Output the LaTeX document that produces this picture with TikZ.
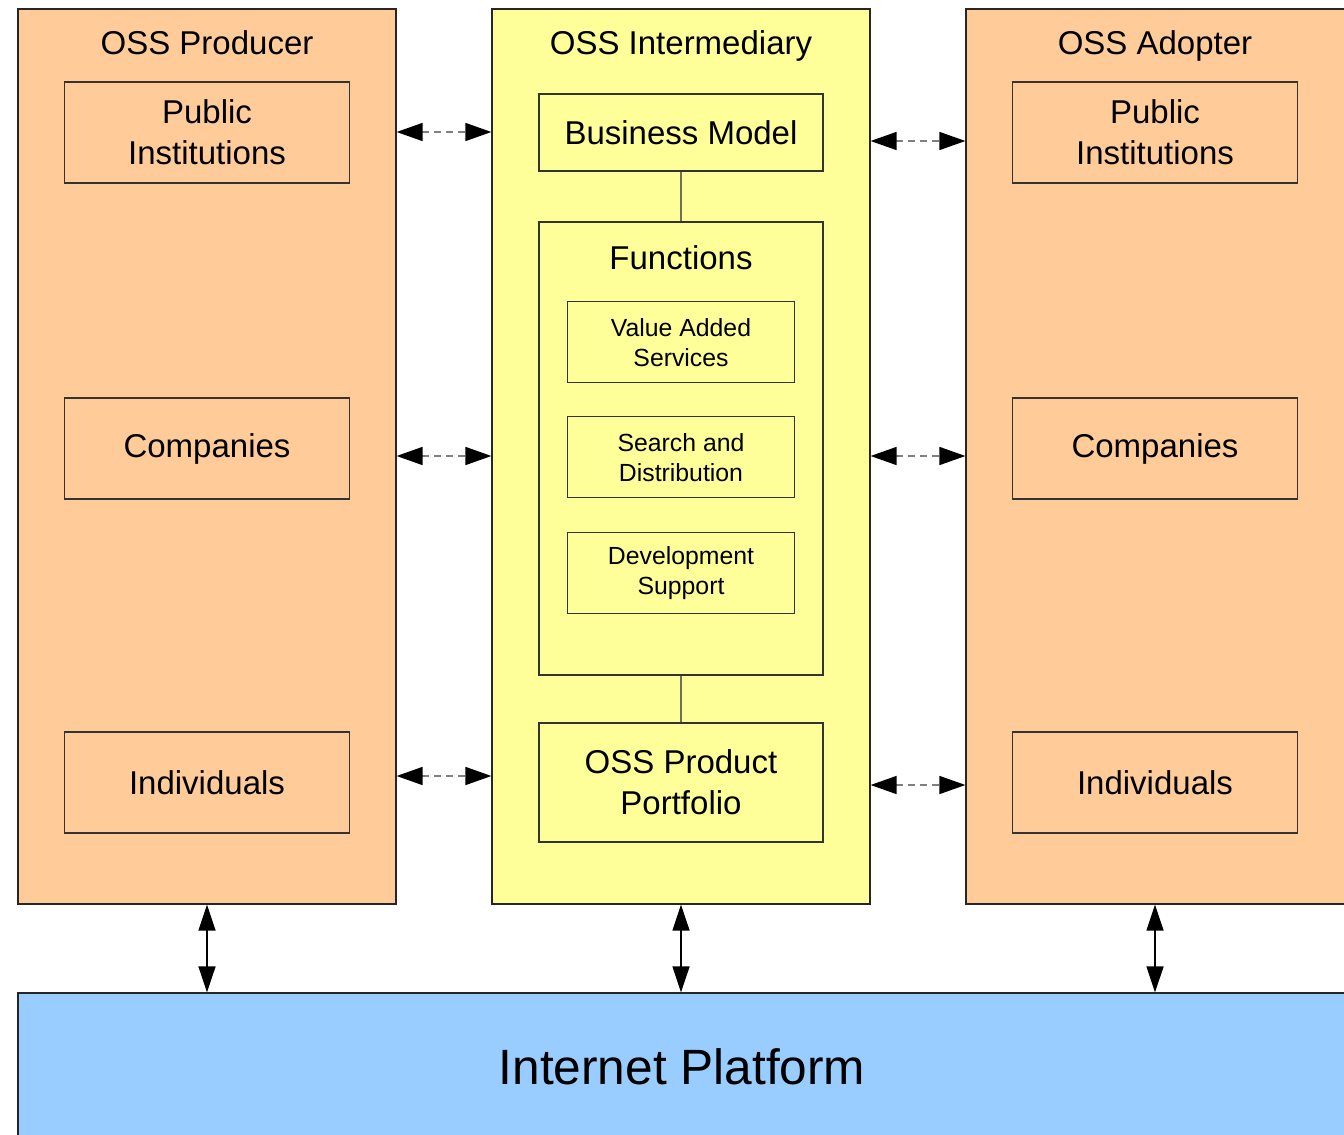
\documentclass[tikz,border=0pt]{standalone}
\usepackage{fontspec}
\setmainfont{Liberation Sans}
\usetikzlibrary{arrows.meta,positioning}

\definecolor{producerfill}{HTML}{FFCC99}
\definecolor{interfill}{HTML}{FFFF99}
\definecolor{platformfill}{HTML}{99CCFF}
\definecolor{linkgray}{HTML}{707058}

\begin{document}
\begin{tikzpicture}[x=0.5pt,y=-0.5pt,
    group/.style={draw=black!85,line width=0.6pt,inner sep=0pt},
    title/.style={font=\fontsize{16.5}{20.5}\selectfont,inner sep=0pt},
    member/.style={draw=black!80,line width=0.6pt,minimum width=142.5pt,minimum height=50.5pt,
      inner sep=0pt,align=center,font=\fontsize{16.5}{20.5}\selectfont},
    part/.style={draw=black!80,line width=0.6pt,minimum width=142pt,
      inner sep=0pt,align=center,font=\fontsize{16.5}{20.5}\selectfont},
    function/.style={draw=black!80,line width=0.6pt,minimum width=113.5pt,minimum height=40.5pt,
      inner sep=0pt,align=center,font=\fontsize{12.4}{15}\selectfont},
    dasharrow/.style={draw=gray,line width=0.75pt,dash pattern=on 3.5pt off 2.5pt,
      {Triangle[length=13pt,width=9pt,color=black]}-{Triangle[length=13pt,width=9pt,color=black]}},
    linkarrow/.style={draw=black,line width=0.75pt,
      {Triangle[length=13pt,width=8.5pt]}-{Triangle[length=13pt,width=8.5pt]}},
    link/.style={draw=linkgray,line width=0.6pt}]
  \useasboundingbox (0,0) rectangle (1344,1135);

  % three groups and the platform
  \node[group,fill=producerfill,minimum width=189pt,minimum height=447.5pt] (producer) at (207,456.5) {};
  \node[group,fill=interfill,minimum width=189pt,minimum height=447.5pt]    (inter)    at (681,456.5) {};
  \node[group,fill=producerfill,minimum width=190pt,minimum height=447.5pt] (adopter)  at (1156,456.5) {};
  \node[group,fill=platformfill,minimum width=664pt,minimum height=73.5pt,
        font=\fontsize{24.8}{28}\selectfont] (platform) at (682,1066.5) {Internet Platform};

  \node[title,anchor=base] (producerT) at ([yshift=-23pt]producer.north) {OSS Producer};
  \node[title,anchor=base] (interT)    at ([yshift=-23pt]inter.north)    {OSS Intermediary};
  \node[title,anchor=base] (adopterT)  at ([xshift=-0.5pt,yshift=-23pt]adopter.north) {OSS Adopter};

  % producer side
  \node[member] (pubL)  at (207,132.5)          {Public\\Institutions};
  \node[member] (compL) [below=106.9pt of pubL]  {Companies};
  \node[member] (indL)  [below=115.9pt of compL] {Individuals};

  % adopter side
  \node[member] (pubR)  [right=330.9pt of pubL]  {Public\\Institutions};
  \node[member] (compR) [right=330.9pt of compL] {Companies};
  \node[member] (indR)  [right=330.9pt of indL]  {Individuals};

  % intermediary
  \node[part,minimum height=38.5pt] (model) at (681,132.5) {Business Model};
  \node[part,minimum height=226.5pt] (functions) [below=24.9pt of model] {};
  \node[title,anchor=base] (functionsT) at ([yshift=-24pt]functions.north) {Functions};
  \node[function] (services)    [below=39.9pt of functions.north] {Value Added\\Services};
  \node[function] (search)      [below=16.4pt of services]  {Search and\\Distribution};
  \node[function] (development) [below=16.9pt of search]  {Development\\Support};
  \node[part,minimum height=59.5pt] (portfolio) [below=23.4pt of functions] {OSS Product\\Portfolio};

  \draw[link] (model) -- (functions);
  \draw[link] (functions) -- (portfolio);

  % dashed links between the groups
  \foreach \n/\ya/\yb in {1/132/141, 2/456/456, 3/776/785} {
    \coordinate (rowL\n) at (0,\ya);
    \coordinate (rowR\n) at (0,\yb);
    \draw[dasharrow] (producer.east |- rowL\n) -- (inter.west |- rowL\n);
    \draw[dasharrow] (inter.east |- rowR\n) -- (adopter.west |- rowR\n);
  }

  % links to the platform
  \draw[linkarrow] (producer.south) -- (producer.south |- platform.north);
  \draw[linkarrow] (inter.south) -- (inter.south |- platform.north);
  \draw[linkarrow] ([xshift=-0.5pt]adopter.south) -- ([xshift=-0.5pt]adopter.south |- platform.north);
\end{tikzpicture}
\end{document}
